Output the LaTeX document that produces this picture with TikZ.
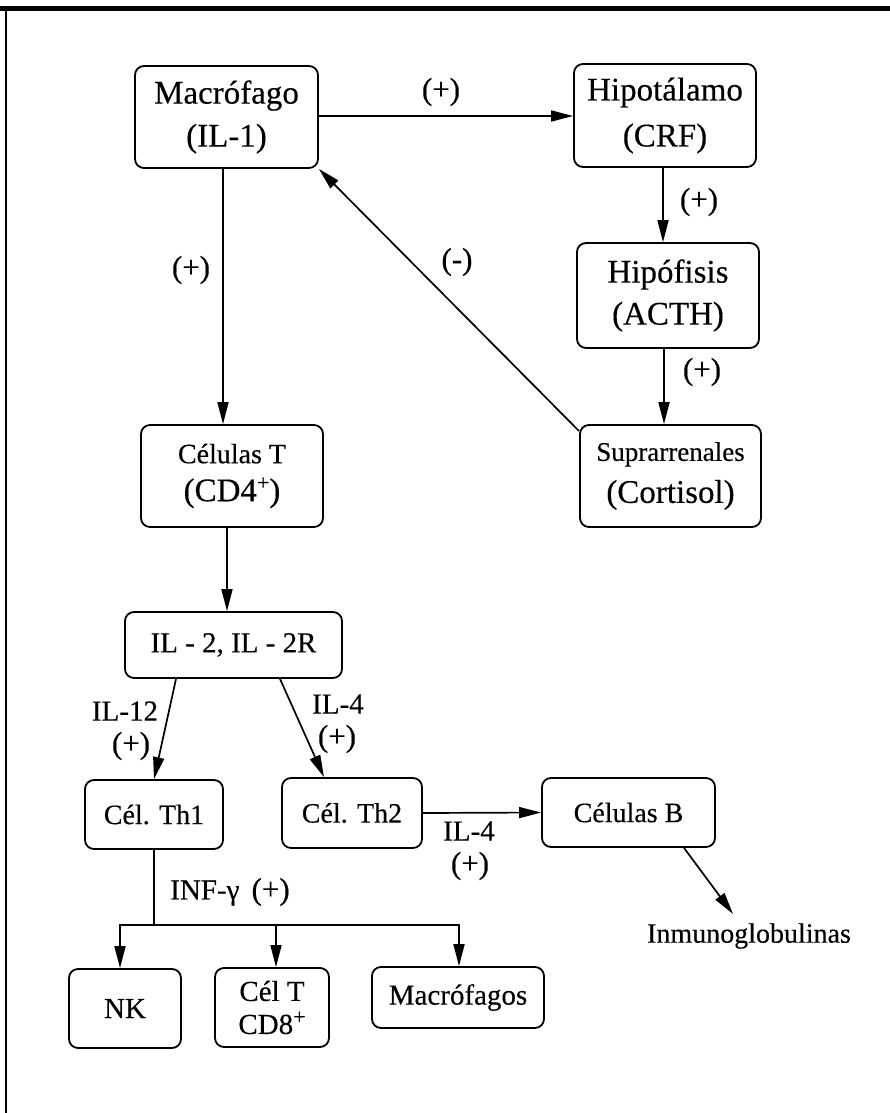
\documentclass[tikz,border=0pt]{standalone}
\usepackage{fontspec}
\setmainfont{Liberation Serif}[UprightFeatures={FakeBold=0.3}]
\usetikzlibrary{arrows.meta,calc}
\newcommand{\fsz}[2]{\fontsize{#1}{#2}\selectfont}
\newcommand{\supplus}{\raisebox{0.75ex}{\fsz{22}{22}+}}
\begin{document}
\begin{tikzpicture}[x=1pt,y=-1pt,
  box/.style={draw, line width=1.8pt, rounded corners=9pt, inner sep=0pt, align=center},
  arr/.style={line width=1.7pt, -{Triangle[length=22pt,width=11pt]}},
  plain/.style={line width=1.7pt},
  lab/.style={inner sep=0pt, align=center, font=\fsz{31}{34}},
  border/.style={line cap=rect}]
\useasboundingbox (0,0) rectangle (890,1113);
\fill[white] (0,0) rectangle (890,1113);
% scan borders
\draw[border, line width=4.5pt] (0,8.5) -- (890,8.5);
\draw[border, line width=2pt] (6,8) -- (6,1113);

% boxes
\node[box, minimum width=183pt, minimum height=102pt, font=\fsz{33}{43}] (mac) at (226.5,117) {Macrófago\\(IL-1)};
\node[box, minimum width=182pt, minimum height=103pt, font=\fsz{33}{46}] (hip) at (665,115.5) {Hipotálamo\\(CRF)};
\node[box, minimum width=182pt, minimum height=105pt, font=\fsz{33}{42}] (hipof) at (668,295.5) {Hipófisis\\(ACTH)};
\node[box, minimum width=181pt, minimum height=102pt, font=\fsz{33}{42}] (supra) at (670.5,476) {{\fsz{27}{42}Suprarrenales}\\(Cortisol)};
\node[box, minimum width=182pt, minimum height=102pt, font=\fsz{33}{38}] (celt) at (232,476) {{\fsz{28}{38}Células T}\\(CD4\supplus)};
\node[box, minimum width=217pt, minimum height=66pt, font=\fsz{29}{35}] (il2) at (233.5,645) {IL - 2, IL - 2R};
\node[box, minimum width=138pt, minimum height=69pt, font=\fsz{28}{34}] (th1) at (154,814.5) {Cél. Th1};
\node[box, minimum width=140pt, minimum height=70pt, font=\fsz{28}{34}] (th2) at (352,813) {Cél. Th2};
\node[box, minimum width=173pt, minimum height=69pt, font=\fsz{28}{34}] (cb) at (628.5,812.5) {Células B};
\node[box, minimum width=112pt, minimum height=79pt, font=\fsz{29}{34}] (nk) at (125,1008.5) {NK};
\node[box, minimum width=114pt, minimum height=79pt, font=\fsz{29}{33}] (cd8) at (272,1007.5) {Cél T\\CD8\supplus};
\node[box, minimum width=172pt, minimum height=61pt, font=\fsz{29}{34}] (macs) at (458,997.5) {Macrófagos};
\node[inner sep=0pt, font=\fsz{28}{34}] (inm) at (749,936) {Inmunoglobulinas};

% helper coordinates
\coordinate (hub) at (154,925);
\coordinate (inmtip) at (733,914);

% connectors
\draw[arr] (mac.east |- 0,116) -- (hip.west |- 0,116);
\draw[arr] ([xshift=-2pt]hip.south) -- ([xshift=-2pt]hip.south |- hipof.north);
\draw[arr] ([xshift=-4pt]hipof.south) -- ([xshift=-4pt]hipof.south |- supra.north);
\draw[arr] ([yshift=-7pt]supra.north west) -- (mac.south east);
\draw[arr] ([xshift=-3.5pt]mac.south) -- ([xshift=-3.5pt]mac.south |- celt.north);
\draw[arr] ([xshift=-5pt]celt.south) -- ([xshift=-5pt]celt.south |- il2.north);
\draw[arr] ([xshift=-57.5pt]il2.south) -- (th1.north);
\draw[arr] ([xshift=46.5pt]il2.south) -- ([xshift=-28pt]th2.north);
\draw[arr] (th2.east) -- (cb.west);
\draw[arr] ([xshift=55.5pt]cb.south) -- (inmtip);
\draw[plain] (th1.south) -- (hub);
\draw[arr] (hub) -| ([xshift=-5pt]nk.north);
\draw[arr] (hub) -| ([xshift=4pt]cd8.north);
\draw[arr] (hub) -| ([xshift=1pt]macs.north);

% labels
\node[lab] (l1) at (441,92) {(+)};
\node[lab] (l2) at (699,202) {(+)};
\node[lab] (l3) at (702,372) {(+)};
\node[lab] (l4) at (457,262) {(-)};
\node[lab] (l5) at (191,270) {(+)};
\node[lab, font=\fsz{29}{34}] (l6) at (125,711) {IL-12};
\node[lab] (l7) at (131,746) {(+)};
\node[lab, font=\fsz{29}{34}] (l8) at (338,704) {IL-4};
\node[lab] (l9) at (337,739) {(+)};
\node[lab, font=\fsz{29}{34}] (l10) at (469,831) {IL-4};
\node[lab] (l11) at (470,866) {(+)};
\node[lab, font=\fsz{29}{34}] (l12) at (230,892) {INF-γ\, {\fsz{31}{34}(+)}};
\end{tikzpicture}
\end{document}
